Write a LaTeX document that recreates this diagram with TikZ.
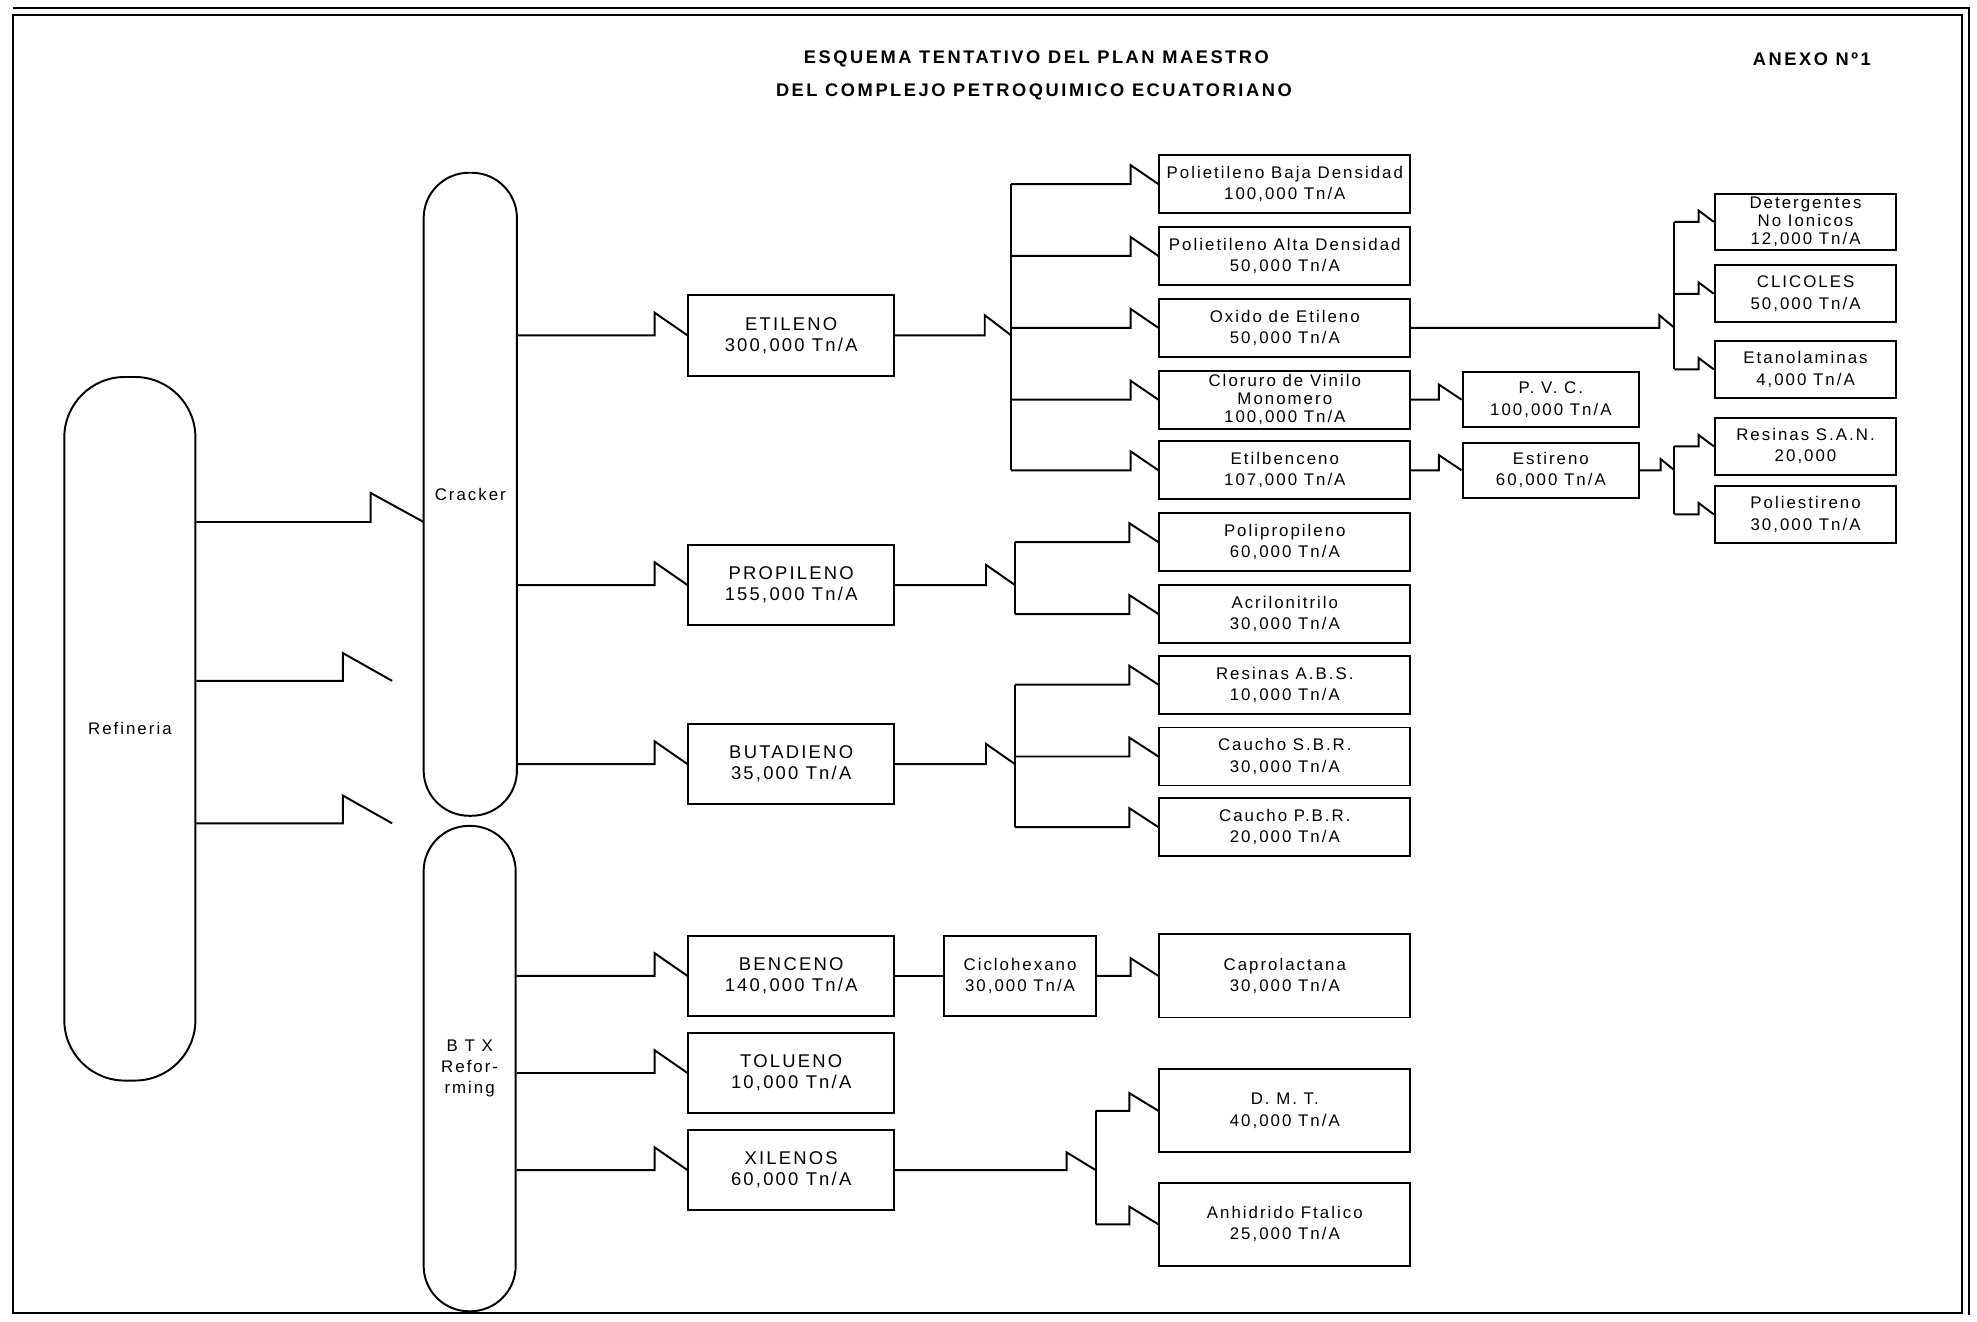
\documentclass[tikz,border=0pt]{standalone}
\usepackage{fontspec}
\setmainfont{Liberation Sans}
\newfontfamily\boxfont[LetterSpace=12]{Liberation Sans}
\newfontfamily\headfont[LetterSpace=14]{Liberation Sans}
\usetikzlibrary{calc}

\tikzset{
  box/.style={draw, inner sep=0pt, align=center,
    font=\boxfont\fontsize{9.5}{12}\selectfont},
  tight/.style={font=\boxfont\fontsize{9.5}{10.3}\selectfont},
  main/.style={box, minimum width=40.75mm, minimum height=16mm,
    font=\boxfont\fontsize{10.4}{12}\selectfont},
  prod/.style={box, minimum width=49.75mm, minimum height=11.5mm},
  tall/.style={box, minimum width=49.75mm, minimum height=16.5mm},
  deriv/.style={box, minimum width=35mm, minimum height=11mm},
  fine/.style={box, minimum width=36mm, minimum height=11.25mm},
  vessel/.style={box},
  head/.style={font=\headfont\bfseries\fontsize{10.3}{12}\selectfont},
  brk/.style 2 args={to path={-- ($(\tikztotarget)+(-#1,0)$)
    -- ++(0,-#2) -- (\tikztotarget) \tikztonodes}}
}

\begin{document}
\begin{tikzpicture}[x=0.25mm, y=-0.25mm, line width=1.1pt]
 \useasboundingbox (0,0) rectangle (1568,1048);

 % frame
 \draw (10,12) rectangle (1556,1041);
 \draw (10,6) -- (1562,6) -- (1562,1043);

 \node[head] (t1) at (822,47) {ESQUEMA TENTATIVO DEL PLAN MAESTRO};
 \node[head] (t2) at (820,73) {DEL COMPLEJO PETROQUIMICO ECUATORIANO};
 \node[head] (anx) at (1437,47) {ANEXO Nº1};

 % columns
 \node[vessel, minimum width=26mm, minimum height=139.5mm, rounded corners=12mm] (ref) at (103,578) {Refineria};
 \node[vessel, minimum width=18.5mm, minimum height=127.5mm, rounded corners=9mm] (crk) at (373,392) {Cracker};
 \node[vessel, minimum width=18.25mm, minimum height=96.25mm, rounded corners=9mm] (btx) at (372.5,847.5) {B T X\\Refor-\\rming};

 \coordinate (r1) at (336,414);
 \coordinate (r2) at (311,540);
 \coordinate (r3) at (311,653);
 \draw (ref.east |- r1) to[brk={42}{23}] (r1);
 \draw (ref.east |- r2) to[brk={39}{22}] (r2);
 \draw (ref.east |- r3) to[brk={39}{22}] (r3);

 % basic products
 \node[main] (eti) at (627.5,266) {ETILENO\\300,000 Tn/A};
 \node[main] (pro) at (627.5,464) {PROPILENO\\155,000 Tn/A};
 \node[main] (but) at (627.5,606) {BUTADIENO\\35,000 Tn/A};
 \node[main] (ben) at (627.5,774) {BENCENO\\140,000 Tn/A};
 \node[main] (tol) at (627.5,851) {TOLUENO\\10,000 Tn/A};
 \node[main] (xil) at (627.5,928) {XILENOS\\60,000 Tn/A};

 \draw (crk.east |- eti) to[brk={26}{18}] (eti.west);
 \draw (crk.east |- pro) to[brk={26}{18}] (pro.west);
 \draw (crk.east |- but) to[brk={26}{18}] (but.west);
 \draw (btx.east |- ben) to[brk={26}{18}] (ben.west);
 \draw (btx.east |- tol) to[brk={26}{18}] (tol.west);
 \draw (btx.east |- xil) to[brk={26}{18}] (xil.west);

 % ethylene line
 \node[prod] (pebd) at (1019,146) {Polietileno Baja Densidad\\100,000 Tn/A};
 \node[prod] (pead) at (1019,203) {Polietileno Alta Densidad\\50,000 Tn/A};
 \node[prod] (oxe) at (1019,260) {Oxido de Etileno\\50,000 Tn/A};
 \node[prod, tight] (cvm) at (1019,317) {Cloruro de Vinilo\\Monomero\\100,000 Tn/A};
 \node[prod] (etb) at (1019,373) {Etilbenceno\\107,000 Tn/A};

 \coordinate (eb) at (802,266);
 \draw (eti.east) to[brk={21}{16}] (eb);
 \draw (eb |- pebd) -- (eb |- etb);
 \draw (eb |- pebd) to[brk={22}{15}] (pebd.west);
 \draw (eb |- pead) to[brk={22}{15}] (pead.west);
 \draw (eb |- oxe) to[brk={22}{15}] (oxe.west);
 \draw (eb |- cvm) to[brk={22}{15}] (cvm.west);
 \draw (eb |- etb) to[brk={22}{15}] (etb.west);

 \node[deriv] (pvc) at (1230,317) {P. V. C.\\100,000 Tn/A};
 \node[deriv] (est) at (1230,373) {Estireno\\60,000 Tn/A};
 \draw (cvm.east) to[brk={18}{12}] (pvc.west);
 \draw (etb.east) to[brk={18}{12}] (est.west);

 \node[fine, tight] (det) at (1432,176) {Detergentes\\No Ionicos\\12,000 Tn/A};
 \node[fine] (gli) at (1432,233) {CLICOLES\\50,000 Tn/A};
 \node[fine] (eta) at (1432,293) {Etanolaminas\\4,000 Tn/A};
 \node[fine] (san) at (1432,354) {Resinas S.A.N.\\20,000};
 \node[fine] (pes) at (1432,408) {Poliestireno\\30,000 Tn/A};

 \coordinate (gb) at (1328,260);
 \draw (oxe.east) to[brk={12}{10}] (gb);
 \draw (gb |- det) -- (gb |- eta);
 \draw (gb |- det) to[brk={12}{9}] (det.west);
 \draw (gb |- gli) to[brk={12}{9}] (gli.west);
 \draw (gb |- eta) to[brk={12}{9}] (eta.west);

 \coordinate (sb) at (1328,373);
 \draw (est.east) to[brk={11}{9}] (sb);
 \draw (sb |- san) -- (sb |- pes);
 \draw (sb |- san) to[brk={12}{9}] (san.west);
 \draw (sb |- pes) to[brk={12}{9}] (pes.west);

 % propylene line
 \node[prod] (ppl) at (1019,430) {Polipropileno\\60,000 Tn/A};
 \node[prod] (acr) at (1019,487) {Acrilonitrilo\\30,000 Tn/A};
 \coordinate (pb) at (805,464);
 \draw (pro.east) to[brk={23}{16}] (pb);
 \draw (pb |- ppl) -- (pb |- acr);
 \draw (pb |- ppl) to[brk={23}{15}] (ppl.west);
 \draw (pb |- acr) to[brk={23}{15}] (acr.west);

 % butadiene line
 \node[prod] (abs) at (1019,543) {Resinas A.B.S.\\10,000 Tn/A};
 \node[prod] (sbr) at (1019,600) {Caucho S.B.R.\\30,000 Tn/A};
 \node[prod] (pbr) at (1019,656) {Caucho P.B.R.\\20,000 Tn/A};
 \coordinate (bb) at (805,606);
 \draw (but.east) to[brk={23}{16}] (bb);
 \draw (bb |- abs) -- (bb |- pbr);
 \draw (bb |- abs) to[brk={23}{15}] (abs.west);
 \draw (bb |- sbr) to[brk={23}{15}] (sbr.west);
 \draw (bb |- pbr) to[brk={23}{15}] (pbr.west);

 % aromatics
 \node[box, minimum width=30mm, minimum height=16mm] (cic) at (809,774) {Ciclohexano\\30,000 Tn/A};
 \node[tall] (cap) at (1019,774) {Caprolactana\\30,000 Tn/A};
 \node[tall] (dmt) at (1019,881) {D. M. T.\\40,000 Tn/A};
 \node[tall] (anh) at (1019,971) {Anhidrido Ftalico\\25,000 Tn/A};
 \draw (ben.east) -- (cic.west);
 \draw (cic.east) to[brk={22}{14}] (cap.west);

 \coordinate (xb) at (869,928);
 \draw (xil.east) to[brk={23}{14}] (xb);
 \draw (xb |- dmt) -- (xb |- anh);
 \draw (xb |- dmt) to[brk={23}{14}] (dmt.west);
 \draw (xb |- anh) to[brk={23}{14}] (anh.west);
\end{tikzpicture}
\end{document}
